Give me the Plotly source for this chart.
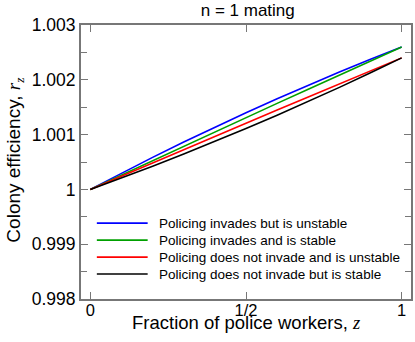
import plotly.graph_objects as go

z = [0.0, 0.1, 0.2, 0.3, 0.4, 0.5, 0.6, 0.7, 0.8, 0.9, 1.0]
invades_unstable = [1.0, 1.000296, 1.000584, 1.000864, 1.001136, 1.0014, 1.001656, 1.001904, 1.002144, 1.002376, 1.0026]
invades_stable = [1.0, 1.000264, 1.000526, 1.000788, 1.00105, 1.00131, 1.00157, 1.001828, 1.002086, 1.002344, 1.0026]
noinvade_unstable = [1.0, 1.000244, 1.000486, 1.000728, 1.00097, 1.00121, 1.00145, 1.001688, 1.001926, 1.002164, 1.0024]
noinvade_stable = [1.0, 1.000208, 1.000422, 1.000644, 1.000874, 1.00111, 1.001354, 1.001604, 1.001862, 1.002128, 1.0024]

series_names = ["Policing invades but is unstable",
                "Policing invades and is stable",
                "Policing does not invade and is unstable",
                "Policing does not invade but is stable"]
series_values = [invades_unstable, invades_stable, noinvade_unstable, noinvade_stable]
series_colors = ["#0000ff", "#00a000", "#ff0000", "#000000"]

x_tickvals = [0, 0.5, 1]
x_ticktext = ["0", "1/2", "1"]
y_tickvals = [0.998, 0.999, 1.0, 1.001, 1.002, 1.003]
y_ticktext = ["0.998", "0.999", "1", "1.001", "1.002", "1.003"]

x_title = "Fraction of police workers, <i><span style='font-family:Liberation Serif'>z</span></i>"
y_title = ("Colony efficiency, <i><span style='font-family:Liberation Serif'>r</span></i>"
           "<sub><i><span style='font-family:Liberation Serif'>z</span></i></sub>")

fig = go.Figure()
for name, vals, col in zip(series_names, series_values, series_colors):
    fig.add_trace(go.Scatter(x=z, y=vals, mode="lines", name=name,
                             line=dict(color=col, width=1.6), showlegend=False))

# legend drawn inside the plot (paper coordinates)
leg_x0, leg_x1, leg_text_x = 0.048, 0.202, 0.229
leg_y_top, leg_dy = 0.277, 0.062
for i, (name, col) in enumerate(zip(series_names, series_colors)):
    yy = leg_y_top - i * leg_dy
    fig.add_shape(type="line", xref="paper", yref="paper", x0=leg_x0, x1=leg_x1, y0=yy, y1=yy,
                  line=dict(color=col, width=1.6))
    fig.add_annotation(xref="paper", yref="paper", x=leg_text_x, y=yy, text=name,
                       showarrow=False, xanchor="left", yanchor="middle",
                       font=dict(family="Liberation Sans", size=13.5, color="#000000"))

# axis titles
fig.add_annotation(xref="paper", yref="paper", x=0.5, y=-0.086, text=x_title,
                   showarrow=False, xanchor="center", yanchor="middle",
                   font=dict(family="Liberation Sans", size=18.5, color="#000000"))
fig.add_annotation(xref="paper", yref="paper", x=-0.2, y=0.505, text=y_title,
                   showarrow=False, xanchor="center", yanchor="middle", textangle=-90,
                   font=dict(family="Liberation Sans", size=19, color="#000000"))

axis_common = dict(
    showline=True, linecolor="#777777", linewidth=2, mirror="ticks",
    ticks="inside", tickcolor="#777777", tickwidth=1.3, ticklen=7,
    showgrid=False, zeroline=False,
)

fig.update_layout(
    width=415, height=342,
    margin=dict(l=81, r=2, t=25, b=43),
    paper_bgcolor="white", plot_bgcolor="white",
    title=dict(text="n = 1 mating", x=0.597, xanchor="center", y=0.97, yanchor="middle",
               font=dict(family="Liberation Sans", size=17, color="#000000")),
    font=dict(family="Liberation Sans", color="#000000"),
    xaxis=dict(range=[-0.03, 1.03], tickvals=x_tickvals, ticktext=x_ticktext,
               tickfont=dict(family="Liberation Sans", size=16.5, color="#000000"),
               ticklabelstandoff=-5, **axis_common),
    yaxis=dict(range=[0.998, 1.003], tickvals=y_tickvals, ticktext=y_ticktext,
               tickfont=dict(family="Liberation Sans", size=17.5, color="#000000"),
               minor=dict(ticks="inside", dtick=0.0005, ticklen=6, tickcolor="#777777", tickwidth=1.3),
               **axis_common),
    showlegend=False,
)

fig.write_html("out.html", post_script="document.body.style.margin='0';",
               config={"displayModeBar": False})
